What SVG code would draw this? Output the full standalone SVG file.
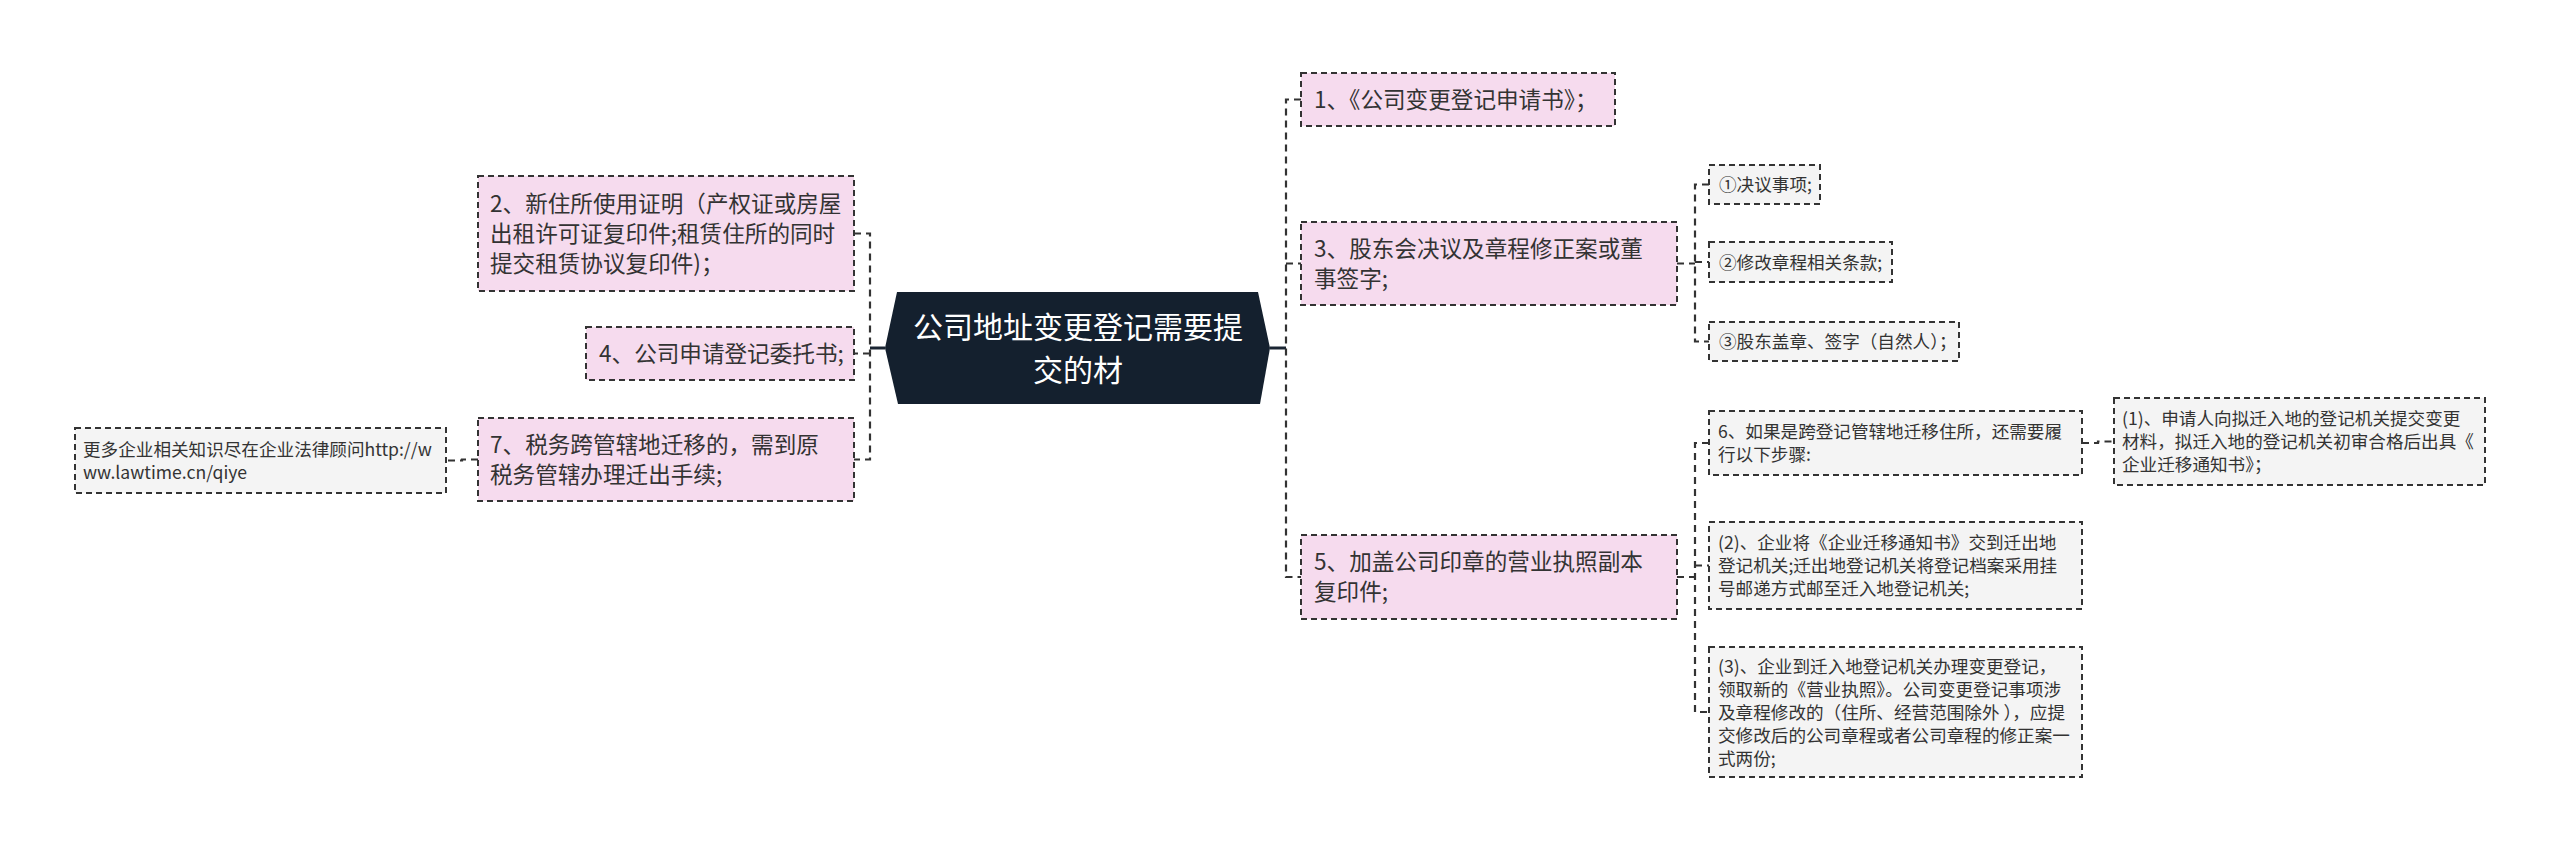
<svg xmlns="http://www.w3.org/2000/svg" width="2560" height="854" viewBox="0 0 2560 854">
<style>
.bg{fill:#ffffff}
.pink{fill:#f6dbee;stroke:#333;stroke-width:2;stroke-dasharray:6 4}
.grey{fill:#f4f4f4;stroke:#333;stroke-width:2;stroke-dasharray:6 4}
.t1{font-family:"Noto Sans CJK SC","Noto Sans",sans-serif;font-size:22.6px;fill:#333}
.t2{font-family:"Noto Sans CJK SC","Noto Sans",sans-serif;font-size:17.6px;fill:#333}
.tc{font-family:"Noto Sans CJK SC","Noto Sans",sans-serif;font-size:30px;fill:#ffffff;text-anchor:middle}
.dash{fill:none;stroke:#333;stroke-width:2.2;stroke-dasharray:7 5}
.solid{fill:none;stroke:#1a2533;stroke-width:3}
</style>
<rect class="bg" x="0" y="0" width="2560" height="854"/>
<g id="connectors">
<path class="solid" d="M885,348 H870"/>
<path class="dash" d="M854,233.5 H870 V459.5 H854 M870,353.5 H854"/>
<path class="dash" d="M478,459.5 H462 V460.5 H446"/>
<path class="solid" d="M1270,348 H1286"/>
<path class="dash" d="M1301,99.5 H1286 V577 H1301 M1286,263.5 H1301"/>
<path class="dash" d="M1677,263.5 H1695 M1709,184.5 H1695 V341.5 H1709 M1695,262 H1709"/>
<path class="dash" d="M1677,577 H1695 M1709,443 H1695 V712 H1709 M1695,565.5 H1709"/>
<path class="dash" d="M2082,443 H2098 V441.5 H2114"/>
</g>
<g id="center">
<polygon points="885,348 897,292 1258,292 1270,348 1260,404 898,404" fill="#14202e"/>
<text class="tc" x="1078" y="338">公司地址变更登记需要提</text>
<text class="tc" x="1078" y="381">交的材</text>
</g>
<g id="n1">
<rect class="pink" x="1301" y="73" width="314" height="53"/>
<text class="t1" x="1314" y="107.5">1、《公司变更登记申请书》；</text>
</g>
<g id="n3">
<rect class="pink" x="1301" y="222" width="376" height="83"/>
<text class="t1" x="1314" y="256.5">3、股东会决议及章程修正案或董</text>
<text class="t1" x="1314" y="286.5">事签字;</text>
</g>
<g id="n3a">
<rect class="grey" x="1709" y="165" width="111" height="39"/>
<text class="t2" x="1719" y="191">①决议事项;</text>
</g>
<g id="n3b">
<rect class="grey" x="1709" y="242" width="183" height="40"/>
<text class="t2" x="1719" y="268.5">②修改章程相关条款;</text>
</g>
<g id="n3c">
<rect class="grey" x="1709" y="322" width="250" height="39"/>
<text class="t2" x="1719" y="348">③股东盖章、签字（自然人）；</text>
</g>
<g id="n5">
<rect class="pink" x="1301" y="535" width="376" height="84"/>
<text class="t1" x="1314" y="570">5、加盖公司印章的营业执照副本</text>
<text class="t1" x="1314" y="600">复印件;</text>
</g>
<g id="n6">
<rect class="grey" x="1709" y="411" width="373" height="64"/>
<text class="t2" x="1718" y="438">6、如果是跨登记管辖地迁移住所，还需要履</text>
<text class="t2" x="1718" y="461">行以下步骤:</text>
</g>
<g id="n6a">
<rect class="grey" x="2114" y="398" width="371" height="87"/>
<text class="t2" x="2122" y="425">(1)、申请人向拟迁入地的登记机关提交变更</text>
<text class="t2" x="2122" y="448">材料，拟迁入地的登记机关初审合格后出具《</text>
<text class="t2" x="2122" y="471">企业迁移通知书》；</text>
</g>
<g id="n5b">
<rect class="grey" x="1709" y="522" width="373" height="87"/>
<text class="t2" x="1718" y="549">(2)、企业将《企业迁移通知书》交到迁出地</text>
<text class="t2" x="1718" y="572">登记机关;迁出地登记机关将登记档案采用挂</text>
<text class="t2" x="1718" y="595">号邮递方式邮至迁入地登记机关;</text>
</g>
<g id="n5c">
<rect class="grey" x="1709" y="647" width="373" height="130"/>
<text class="t2" x="1718" y="672.5">(3)、企业到迁入地登记机关办理变更登记，</text>
<text class="t2" x="1718" y="695.5">领取新的《营业执照》。公司变更登记事项涉</text>
<text class="t2" x="1718" y="718.5">及章程修改的（住所、经营范围除外 ），应提</text>
<text class="t2" x="1718" y="741.5">交修改后的公司章程或者公司章程的修正案一</text>
<text class="t2" x="1718" y="764.5">式两份;</text>
</g>
<g id="n2">
<rect class="pink" x="478" y="176" width="376" height="115"/>
<text class="t1" x="490" y="211.5">2、新住所使用证明（产权证或房屋</text>
<text class="t1" x="490" y="241.5">出租许可证复印件;租赁住所的同时</text>
<text class="t1" x="490" y="271.5">提交租赁协议复印件)；</text>
</g>
<g id="n4">
<rect class="pink" x="586" y="327" width="268" height="53"/>
<text class="t1" x="599" y="361.5">4、公司申请登记委托书;</text>
</g>
<g id="n7">
<rect class="pink" x="478" y="418" width="376" height="83"/>
<text class="t1" x="490" y="452.5">7、税务跨管辖地迁移的，需到原</text>
<text class="t1" x="490" y="482.5">税务管辖办理迁出手续;</text>
</g>
<g id="link">
<rect class="grey" x="75" y="428" width="371" height="65"/>
<text class="t2" x="83" y="455.5">更多企业相关知识尽在企业法律顾问http://w</text>
<text class="t2" x="83" y="478.5">ww.lawtime.cn/qiye</text>
</g>
</svg>
